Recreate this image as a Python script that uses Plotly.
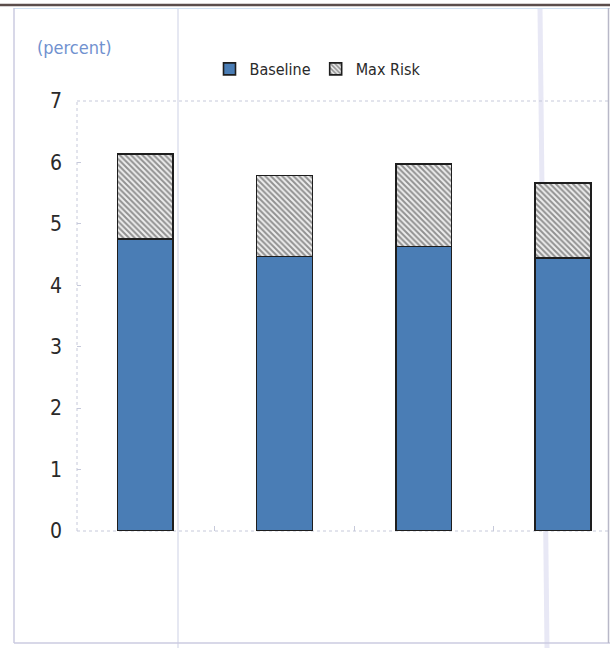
import plotly.graph_objects as go

# Four scenarios, stacked: baseline level plus the additional max-risk increment
positions = [0, 1, 2, 3]
baseline = [4.75, 4.47, 4.63, 4.44]
max_risk_total = [6.14, 5.79, 5.97, 5.67]
max_risk = [round(t - b, 2) for t, b in zip(max_risk_total, baseline)]
y_ticks = [0, 1, 2, 3, 4, 5, 6, 7]

W, H = 610, 648
L, R, T, B = 77, 0, 101, 117
TICK_FONT = "DejaVu Sans Condensed, Liberation Sans Narrow, Roboto, sans-serif"


def px(x):
    return (x - L) / (W - L - R)


def py(y):
    return (H - B - y) / (H - T - B)


fig = go.Figure()
fig.add_bar(
    x=positions, y=baseline, name="Baseline", width=0.40,
    marker=dict(color="#4a7db5", line=dict(color="#1e1e1e", width=1.6)),
)
fig.add_bar(
    x=positions, y=max_risk, name="Max Risk", width=0.40,
    marker=dict(
        color="#eeeeee",
        line=dict(color="#1e1e1e", width=1.6),
        pattern=dict(shape="\\", fgcolor="#333333", bgcolor="#eeeeee",
                     size=4, solidity=0.5),
    ),
)

shapes = []
# light page frame and dark rule across the top
shapes.append(dict(type="line", xref="paper", yref="paper", x0=px(0), x1=px(W),
                   y0=py(5), y1=py(5), line=dict(color="#5b4d4b", width=2.5)))
shapes.append(dict(type="line", xref="paper", yref="paper", x0=px(14), x1=px(W),
                   y0=py(8.5), y1=py(8.5), line=dict(color="#cfe0f2", width=1)))
shapes.append(dict(type="line", xref="paper", yref="paper", x0=px(14), x1=px(14),
                   y0=py(8), y1=py(643), line=dict(color="#cbcbe0", width=1.5)))
shapes.append(dict(type="line", xref="paper", yref="paper", x0=px(14), x1=px(W),
                   y0=py(643), y1=py(643), line=dict(color="#cbcbe0", width=1.5)))
shapes.append(dict(type="line", xref="paper", yref="paper", x0=px(608.5), x1=px(608.5),
                   y0=py(8), y1=py(643), line=dict(color="#b8b8c8", width=1.5)))
# faint vertical streaks across the page
shapes.append(dict(type="line", xref="paper", yref="paper", x0=px(178), x1=px(178),
                   y0=py(8), y1=py(648), layer="below",
                   line=dict(color="#e6e8f2", width=2)))
shapes.append(dict(type="line", xref="paper", yref="paper", x0=px(540), x1=px(547),
                   y0=py(8), y1=py(648), layer="below",
                   line=dict(color="#e8e8f5", width=5)))
# dashed plot-area outline
dash_col = "#c6c9da"
shapes.append(dict(type="line", xref="paper", yref="paper", x0=0, x1=1, y0=1, y1=1,
                   layer="below", line=dict(color=dash_col, width=1, dash="dot")))
shapes.append(dict(type="line", xref="paper", yref="paper", x0=0, x1=0, y0=0, y1=1,
                   layer="below", line=dict(color=dash_col, width=1, dash="dot")))
shapes.append(dict(type="line", xref="paper", yref="paper", x0=0, x1=1, y0=0, y1=0,
                   layer="below", line=dict(color=dash_col, width=1, dash="dot")))

fig.update_layout(
    width=W, height=H,
    margin=dict(l=L, r=R, t=T, b=B, pad=0),
    paper_bgcolor="white", plot_bgcolor="white",
    barmode="stack", bargap=0.6,
    showlegend=True,
    legend=dict(orientation="h", x=px(318), xanchor="center", y=py(69), yanchor="middle",
                font=dict(family=TICK_FONT, size=16, color="#2a2a2a"),
                itemwidth=30, tracegroupgap=0, bgcolor="rgba(0,0,0,0)",
                traceorder="normal"),
    shapes=shapes,
    annotations=[dict(text="(percent)", xref="paper", yref="paper",
                      x=px(74), y=py(47), xanchor="center", yanchor="middle",
                      showarrow=False,
                      font=dict(family=TICK_FONT, size=18, color="#7191cf"))],
    xaxis=dict(range=[-0.49, 3.338], showgrid=False, zeroline=False, showline=False,
               tickvals=[0.5, 1.5, 2.5], ticktext=["", "", ""], showticklabels=False,
               ticks="inside", ticklen=5, tickcolor="#c6c9da", tickwidth=1),
    yaxis=dict(range=[0, 7], tickvals=y_ticks, showgrid=False, zeroline=False,
               showline=False, ticks="inside", ticklen=4, tickcolor="#c6c9da",
               tickwidth=1, ticklabelstandoff=14,
               tickfont=dict(family=TICK_FONT, size=21, color="#2a2a2a")),
)

fig.write_html("out.html")
